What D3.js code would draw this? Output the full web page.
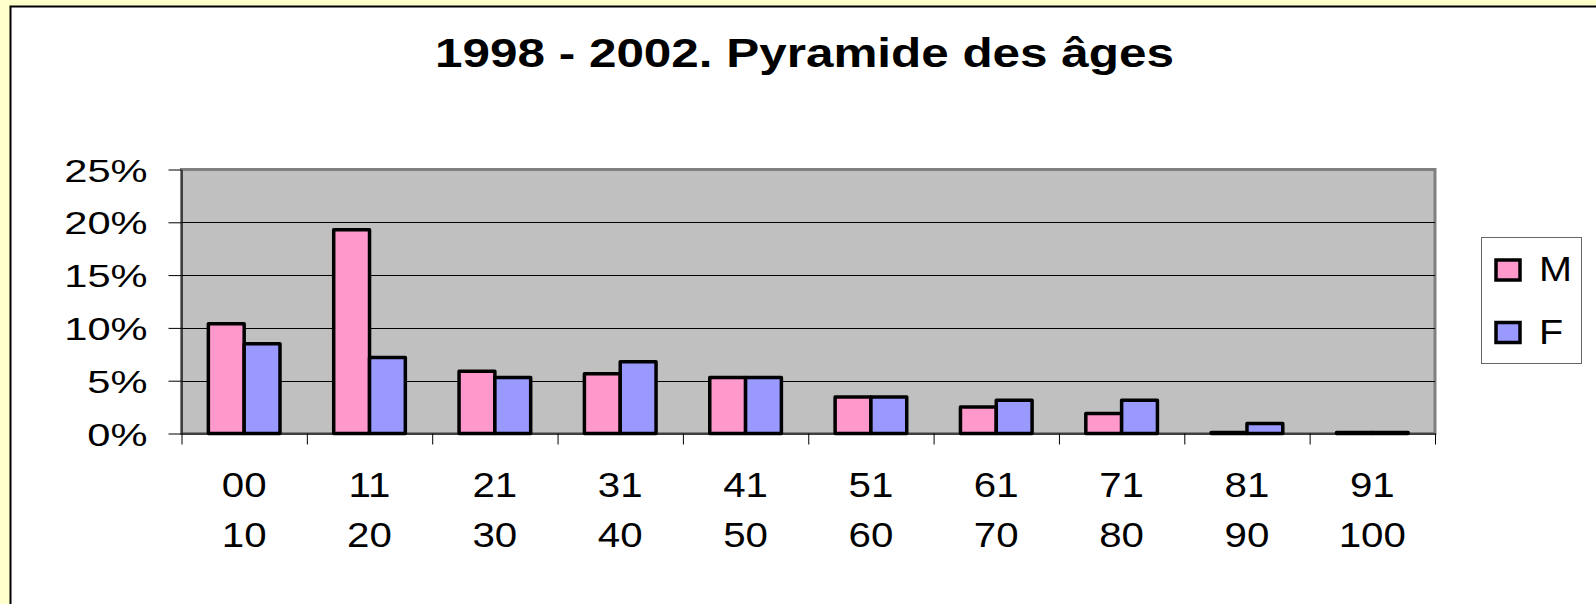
<html>
<head>
  <script src="https://d3js.org/d3.v7.min.js"></script>
  <style>
    body { margin: 0; background: #ffffcc; overflow: hidden; }
    text { font-family: "Liberation Sans", Arial, sans-serif; fill: #000; }
  </style>
</head>
<body>
  <div id="chart"></div>
  <script>

    // Age groups (two-line labels) and the share of each sex
    var groupsTop = ["00", "11", "21", "31", "41", "51", "61", "71", "81", "91"];
    var groupsBottom = ["10", "20", "30", "40", "50", "60", "70", "80", "90", "100"];
    var seriesNames = ["M", "F"];
    var valuesM = [0.104, 0.193, 0.059, 0.0565, 0.053, 0.0345, 0.025, 0.019, 0.001, 0.001];
    var valuesF = [0.085, 0.072, 0.053, 0.068, 0.053, 0.0345, 0.0315, 0.0315, 0.0095, 0.001];
    var yTicks = [0, 0.05, 0.10, 0.15, 0.20, 0.25];
    var colors = {M: "#ff99cc", F: "#9999ff"};

    var W = 1596, H = 604;
    var plot = {left: 181.5, right: 1435, top: 169.5, bottom: 433.5};

    // the source chart is drawn wider than its font, so stretch texts
    function stretch(sel, k) {
      sel.each(function() {
        var w = this.getComputedTextLength();
        this.setAttribute("textLength", w * k);
        this.setAttribute("lengthAdjust", "spacingAndGlyphs");
      });
    }

    var svg = d3.select("#chart")
      .append("svg")
        .attr("width", W)
        .attr("height", H);

    // chart area (white, black frame)
    svg.append("rect")
      .attr("x", 10.5).attr("y", 6.5)
      .attr("width", W + 20).attr("height", H + 20)
      .attr("fill", "#fff")
      .attr("stroke", "#000")
      .attr("stroke-width", 2);

    // title
    svg.append("text")
      .attr("x", 804.5).attr("y", 66.5)
      .attr("text-anchor", "middle")
      .style("font-size", "40px")
      .style("font-weight", "bold")
      .text("1998 - 2002. Pyramide des âges")
      .call(stretch, 1.235);

    // scales
    var x0 = d3.scaleBand()
      .domain(groupsTop)
      .range([plot.left, plot.right])
      .paddingInner(1.5 / 3.5)
      .paddingOuter(0.75 / 3.5);

    var x1 = d3.scaleBand()
      .domain(seriesNames)
      .range([0, x0.bandwidth()]);

    var xEdge = d3.scaleLinear()
      .domain([0, groupsTop.length])
      .range([plot.left, plot.right]);

    var y = d3.scaleLinear()
      .domain([0, 0.25])
      .range([plot.bottom, plot.top]);

    // plot background
    svg.append("rect")
      .attr("x", plot.left).attr("y", plot.top)
      .attr("width", plot.right - plot.left)
      .attr("height", plot.bottom - plot.top)
      .attr("fill", "#c0c0c0")
      .attr("stroke", "#808080")
      .attr("stroke-width", 3);

    // gridlines
    svg.append("g")
      .selectAll("line")
      .data(yTicks.slice(1, -1))
      .join("line")
        .attr("x1", plot.left).attr("x2", plot.right)
        .attr("y1", d => Math.round(y(d)) + 0.5)
        .attr("y2", d => Math.round(y(d)) + 0.5)
        .attr("stroke", "#000")
        .attr("stroke-width", 1);

    // bars
    var rows = groupsTop.map((g, i) => ({group: g, M: valuesM[i], F: valuesF[i]}));

    svg.append("g")
      .selectAll("g")
      .data(rows)
      .join("g")
        .attr("transform", d => `translate(${x0(d.group)},0)`)
      .selectAll("rect")
      .data(d => seriesNames.map(s => ({key: s, value: d[s]})))
      .join("rect")
        .attr("x", d => x1(d.key))
        .attr("y", d => y(d.value))
        .attr("width", x1.bandwidth())
        .attr("height", d => y(0) - y(d.value))
        .attr("fill", d => colors[d.key])
        .attr("stroke", "#000")
        .attr("stroke-width", 3.5)
        .attr("stroke-linejoin", "round");

    // y axis
    var yAxis = svg.append("g")
      .attr("transform", `translate(${plot.left},0)`)
      .call(d3.axisLeft(y).tickValues(yTicks).tickFormat(d3.format(".0%"))
        .tickSize(13).tickSizeOuter(0).tickPadding(21));
    yAxis.select(".domain").attr("stroke", "#000").attr("stroke-width", 1);
    yAxis.selectAll(".tick line").attr("stroke", "#000");
    yAxis.selectAll(".tick text")
      .attr("fill", "#000")
      .attr("dy", "0.36em")
      .style("font-size", "32px")
      .attr("font-family", null)
      .call(stretch, 1.3);

    // x axis ticks at category boundaries
    var xAxis = svg.append("g")
      .attr("transform", `translate(0,${plot.bottom})`)
      .call(d3.axisBottom(xEdge).tickValues(d3.range(groupsTop.length + 1))
        .tickFormat("").tickSize(11).tickSizeOuter(0));
    xAxis.select(".domain").attr("stroke", "#000").attr("stroke-width", 1);
    xAxis.selectAll(".tick line").attr("stroke", "#000");

    // x labels (two lines)
    var labels = svg.append("g");
    labels.selectAll("text.top")
      .data(groupsTop)
      .join("text")
        .attr("class", "top")
        .attr("x", d => x0(d) + x0.bandwidth() / 2)
        .attr("y", 497)
        .attr("text-anchor", "middle")
        .style("font-size", "35px")
        .text(d => d)
        .call(stretch, 1.15);
    labels.selectAll("text.bottom")
      .data(groupsBottom)
      .join("text")
        .attr("class", "bottom")
        .attr("x", (d, i) => x0(groupsTop[i]) + x0.bandwidth() / 2)
        .attr("y", 547)
        .attr("text-anchor", "middle")
        .style("font-size", "35px")
        .text(d => d)
        .call(stretch, 1.15);

    // legend
    var legend = svg.append("g");
    legend.append("rect")
      .attr("x", 1481.5).attr("y", 237.5)
      .attr("width", 100).attr("height", 126)
      .attr("fill", "#fff")
      .attr("stroke", "#666")
      .attr("stroke-width", 1);

    var item = legend.selectAll("g.item")
      .data(seriesNames)
      .join("g")
        .attr("class", "item")
        .attr("transform", (d, i) => `translate(1496,${260 + i * 62.5})`);
    item.append("rect")
      .attr("width", 24).attr("height", 20)
      .attr("fill", d => colors[d])
      .attr("stroke", "#000")
      .attr("stroke-width", 3.5);
    item.append("text")
      .attr("x", 43).attr("y", 21)
      .style("font-size", "35px")
      .text(d => d)
      .call(stretch, 1.13);

  </script>
</body>
</html>
